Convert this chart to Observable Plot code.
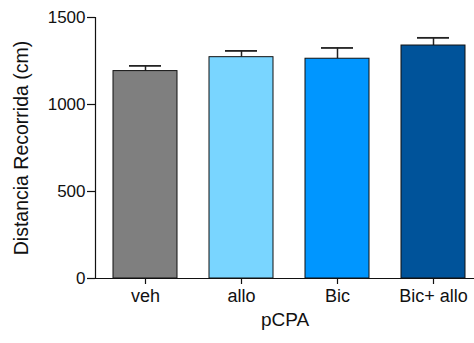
<!DOCTYPE html>
<html>
<head>
<meta charset="utf-8">
<script src="https://cdn.jsdelivr.net/npm/d3@7"></script>
<script src="https://cdn.jsdelivr.net/npm/@observablehq/plot@0.6"></script>
<style>
  html, body { margin: 0; padding: 0; background: #fff; }
  svg { display: block; }
</style>
</head>
<body>
<div id="chart"></div>
<script>
const groups = ["veh", "allo", "Bic", "Bic+ allo"];
const means = [1192, 1272, 1263, 1339];
const sems = [30, 36, 62, 44];
const colors = ["#7f7f7f", "#79d5ff", "#0096ff", "#00539a"];
const yTicks = [0, 500, 1000, 1500];
const yTitle = "Distancia Recorrida (cm)";
const xTitle = "pCPA";

const data = groups.map((g, i) => ({group: g, mean: means[i], top: means[i] + sems[i]}));

const chart = Plot.plot({
  width: 474,
  height: 343,
  marginLeft: 95,
  marginRight: 0,
  marginTop: 17,
  marginBottom: 65,
  style: {fontFamily: "Liberation Sans, Arial, sans-serif", fontSize: "16px", color: "#111", background: "#fff"},
  x: {domain: groups, paddingInner: 0.33, paddingOuter: 0.119, align: 0.68},
  y: {domain: [0, 1500]},
  color: {domain: groups, range: colors},
  marks: [
    Plot.ruleX(data, {x: "group", y1: "mean", y2: "top", stroke: "#222", strokeWidth: 1.5}),
    Plot.tickY(data, {x: "group", y: "top", stroke: "#222", strokeWidth: 1.8, insetLeft: 16, insetRight: 16}),
    Plot.barY(data, {x: "group", y: "mean", fill: "group", stroke: "#111", strokeWidth: 1}),
    Plot.frame({anchor: "left", stroke: "#111", strokeWidth: 1.2}),
    Plot.ruleY([0], {stroke: "#111", strokeWidth: 1.2}),
    Plot.axisY({ticks: yTicks, tickFormat: d3.format("d"), tickSize: 8, tickPadding: 2, fontSize: 17, stroke: "#111",
      strokeWidth: 1.2, label: null}),
    Plot.axisX({tickSize: 6, tickPadding: 5, fontSize: 18, stroke: "#111", strokeWidth: 1.2, label: null}),
    Plot.text([yTitle], {frameAnchor: "left", dx: -74, rotate: -90, fontSize: 19.5, textAnchor: "middle", fill: "#111"}),
    Plot.text([xTitle], {frameAnchor: "bottom", dy: 47, fontSize: 19, textAnchor: "middle", fill: "#111"})
  ]
});
document.getElementById("chart").appendChild(chart);
</script>
</body>
</html>
